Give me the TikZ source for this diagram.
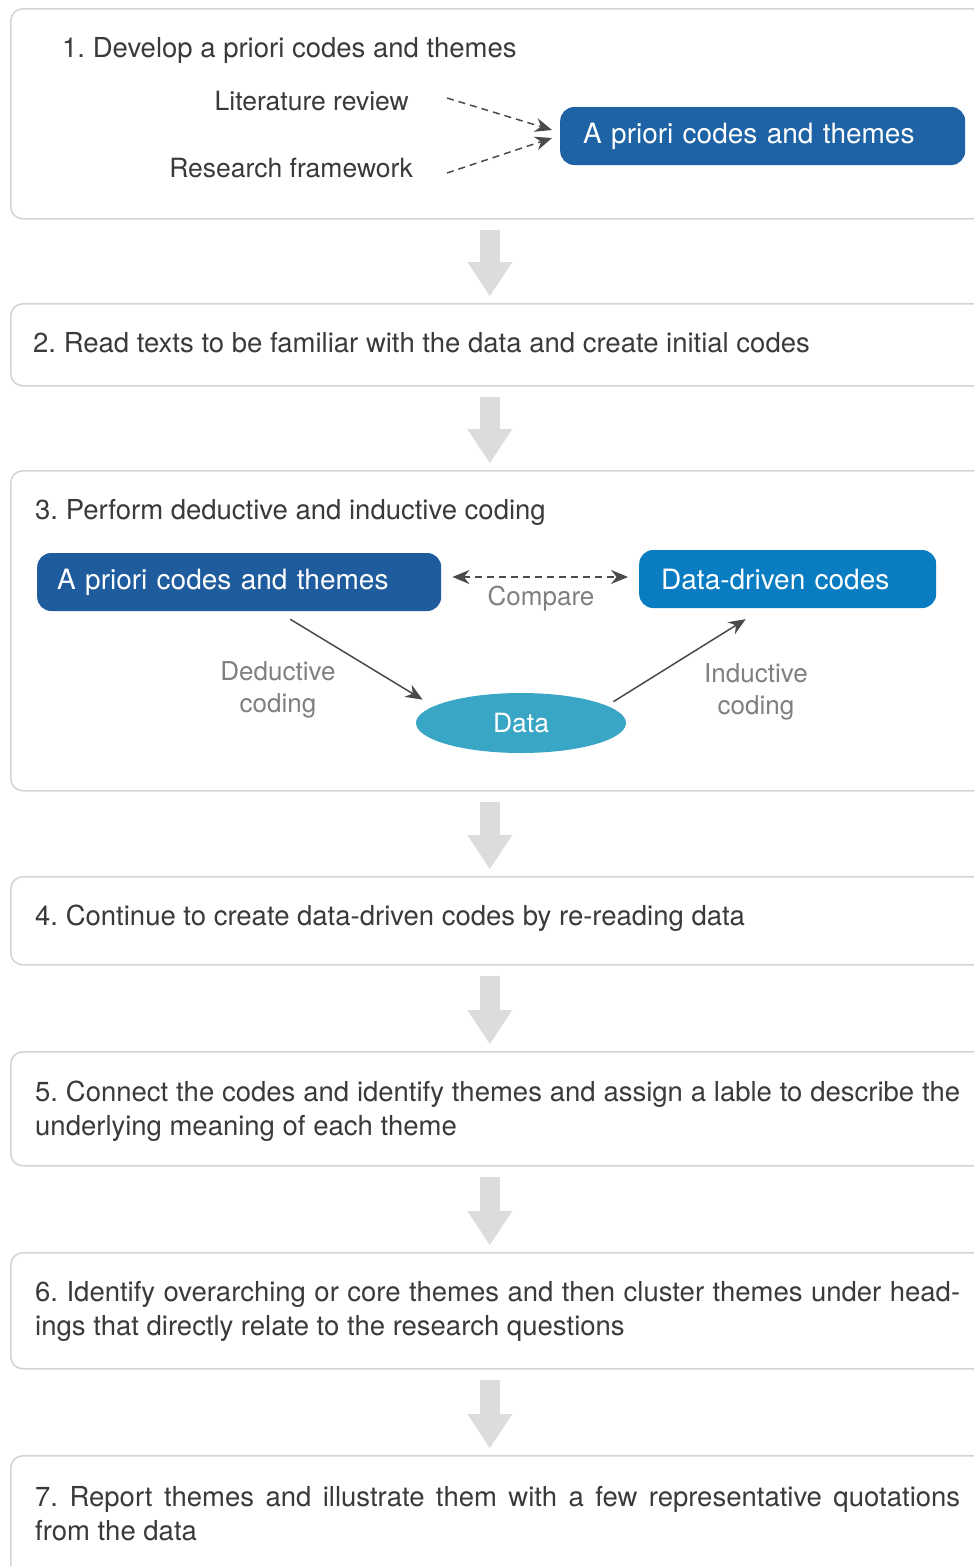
\documentclass[tikz,border=0pt]{standalone}
\usepackage{fontspec}
\setmainfont{TeX Gyre Heros}
\usetikzlibrary{arrows.meta}
\usetikzlibrary{shapes.geometric}
\definecolor{panelline}{HTML}{D4D4D4}
\definecolor{maintext}{HTML}{3A3A3A}
\definecolor{labeltext}{HTML}{808080}
\definecolor{arrowgray}{HTML}{4A4A4A}
\definecolor{blockgray}{HTML}{DCDCDC}
\definecolor{prioriblue}{HTML}{1E63A5}
\definecolor{darkblue}{HTML}{1F5C9E}
\definecolor{drivenblue}{HTML}{0A7DC2}
\definecolor{datateal}{HTML}{3AA6C6}
\frenchspacing

\begin{document}
\begin{tikzpicture}[x=1pt,y=-1pt,font=\fontsize{27.5}{34}\selectfont,
	panel/.style={draw=panelline,line width=1.6pt,rounded corners=12pt,fill=white,
		anchor=north west,minimum width=990pt,inner sep=0pt},
	txt/.style={anchor=west,inner sep=0pt,text=maintext},
	para/.style={txt,text width=925pt,align=justify},
	codebox/.style={anchor=west,rounded corners=14pt,text=white,minimum height=58pt,
		font=\fontsize{28}{34}\selectfont,align=left},
	lbl/.style={inner sep=0pt,text=labeltext,align=center,font=\fontsize{26}{32}\selectfont},
	thin/.style={draw=arrowgray,line width=1.5pt,-{Stealth[length=17pt,width=14pt]}},
	dashline/.style={thin,dashed,dash pattern=on 7pt off 5pt},
	block/.style={draw=blockgray,line width=20pt,-{Triangle[width=45pt,length=34pt,line width=0pt]}}]
	\useasboundingbox (0,0) rectangle (974,1566);
	\clip (0,0) rectangle (974,1566);
	
	% panels
	\node[panel,minimum height=210pt] (P1) at (10,8) {};
	\node[panel,minimum height=82pt]  (P2) at (10,303) {};
	\node[panel,minimum height=320pt] (P3) at (10,470) {};
	\node[panel,minimum height=88pt]  (P4) at (10,876) {};
	\node[panel,minimum height=114pt] (P5) at (10,1051) {};
	\node[panel,minimum height=116pt] (P6) at (10,1252) {};
	\node[panel,minimum height=140pt] (P7) at (10,1455) {};
	
	% big arrows between steps
	\foreach \a/\b in {P1/P2,P2/P3,P3/P4,P4/P5,P5/P6,P6/P7}
		\draw[block] ([xshift=-16pt,yshift=-10pt]\a.south) -- ([xshift=-16pt,yshift=7pt]\b.north);
	
	% step 1
	\node[txt] (T1) at (62,50) {1. Develop a priori codes and themes};
	\node[txt,anchor=east,font=\fontsize{26.5}{32}\selectfont] (LIT) at (409,101) {Literature review};
	\node[txt,anchor=east,font=\fontsize{26.5}{32}\selectfont] (RF) at (413,168) {Research framework};
	\node[codebox,fill=prioriblue,inner xsep=23pt,text width=359pt] (APC1) at (560,136) {A priori codes and themes};
	\draw[dashline] ([xshift=38pt,yshift=3pt]LIT.east) -- ([xshift=-8pt,yshift=6pt]APC1.west);
	\draw[dashline] ([xshift=34pt,yshift=-5pt]RF.east) -- ([xshift=-8pt,yshift=-2pt]APC1.west);
	
	% step 2
	\node[txt] (T2) at (33,343) {2. Read texts to be familiar with the data and create initial codes};
	
	% step 3
	\node[txt] (T3) at (35,512) {3. Perform deductive and inductive coding};
	\node[codebox,fill=darkblue,inner xsep=20pt,text width=364pt] (APC2) at (37,582) {A priori codes and themes};
	\node[codebox,fill=drivenblue,inner xsep=22pt,text width=253pt] (DDC) at (639,579) {Data-driven codes};
	\node[ellipse,fill=datateal,text=white,minimum width=210pt,minimum height=60pt,
		font=\fontsize{26.5}{32}\selectfont] (DATA) at (521,723) {Data};
	\draw[dashline,{Stealth[length=17pt,width=14pt]}-{Stealth[length=17pt,width=14pt]}]
		([xshift=11pt,yshift=5pt]APC2.east) -- ([xshift=-11pt,yshift=2pt]DDC.west);
	\node[lbl] (CMP) at (541,599) {Compare};
	\draw[thin] ([xshift=51pt,yshift=-8pt]APC2.south) -- ([xshift=-24pt,yshift=2pt]DATA.north west);
	\draw[thin] ([xshift=18pt]DATA.north east) -- ([xshift=-42pt,yshift=-11pt]DDC.south);
	\node[lbl] (DED) at (278,690) {Deductive\\coding};
	\node[lbl] (IND) at (756,692) {Inductive\\coding};
	
	% steps 4 - 7
	\node[txt] (T4) at (35,918) {4. Continue to create data-driven codes by re-reading data};
	\node[para] (T5) at (35,1111) {5. Connect the codes and identify themes and assign a lable to describe the\linebreak
		underlying meaning of each theme};
	\node[para] (T6) at (35,1311) {6. Identify overarching or core themes and then cluster themes under head-\linebreak
		ings that directly relate to the research questions};
	\node[para] (T7) at (35,1514) {7. Report themes and illustrate them with a few representative quotations\linebreak
		from the data};
\end{tikzpicture}
\end{document}
